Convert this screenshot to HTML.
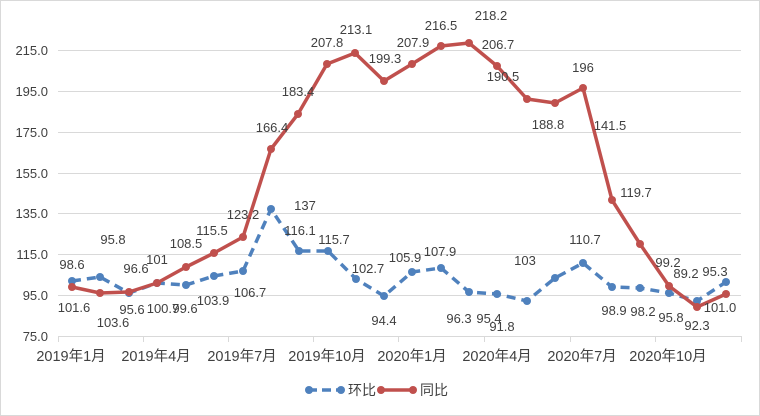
<!DOCTYPE html>
<html><head><meta charset="utf-8"><style>
html,body{margin:0;padding:0;background:#fff}
svg{display:block}
text{font-family:"Liberation Sans","Noto Sans CJK SC",sans-serif;font-size:13px;fill:#404040}
.ax{font-size:14.5px}
</style></head><body>
<svg width="760" height="416" viewBox="0 0 760 416">
<rect x="0.5" y="0.5" width="759" height="415" fill="#fff" stroke="#d9d9d9"/>
<g stroke="#d9d9d9" stroke-width="1">
<line x1="58" x2="741" y1="50.5" y2="50.5"/>
<line x1="58" x2="741" y1="91.5" y2="91.5"/>
<line x1="58" x2="741" y1="132.5" y2="132.5"/>
<line x1="58" x2="741" y1="173.5" y2="173.5"/>
<line x1="58" x2="741" y1="213.5" y2="213.5"/>
<line x1="58" x2="741" y1="254.5" y2="254.5"/>
<line x1="58" x2="741" y1="295.5" y2="295.5"/>
<line x1="58" x2="741" y1="336.5" y2="336.5"/>
<line x1="58.5" x2="58.5" y1="336" y2="342"/>
<line x1="143.5" x2="143.5" y1="336" y2="342"/>
<line x1="228.5" x2="228.5" y1="336" y2="342"/>
<line x1="313.5" x2="313.5" y1="336" y2="342"/>
<line x1="398.5" x2="398.5" y1="336" y2="342"/>
<line x1="484.5" x2="484.5" y1="336" y2="342"/>
<line x1="570.5" x2="570.5" y1="336" y2="342"/>
<line x1="655.5" x2="655.5" y1="336" y2="342"/>
<line x1="741.5" x2="741.5" y1="336" y2="342"/>
</g>
<g text-anchor="end">
<text x="48" y="55">215.0</text><text x="48" y="96">195.0</text><text x="48" y="137">175.0</text>
<text x="48" y="178">155.0</text><text x="48" y="218">135.0</text><text x="48" y="259">115.0</text>
<text x="48" y="300">95.0</text><text x="48" y="341">75.0</text>
</g>
<g text-anchor="middle" class="ax">
<text class="ax" x="71" y="361">2019年1月</text><text class="ax" x="156" y="361">2019年4月</text>
<text class="ax" x="242" y="361">2019年7月</text><text class="ax" x="327" y="361">2019年10月</text>
<text class="ax" x="412" y="361">2020年1月</text><text class="ax" x="497" y="361">2020年4月</text>
<text class="ax" x="582" y="361">2020年7月</text><text class="ax" x="668" y="361">2020年10月</text>
</g>
<polyline fill="none" stroke="#4f81bd" stroke-width="3.5" stroke-dasharray="9,6" stroke-linejoin="round"
points="72,281 100,277 129,293 157,283 186,285 214,276 243,271 271,209 299,251 328,251 356,279 384,296 412,272 441,268 469,292 497,294 527,301 555,278 583,263 612,287 640,288 669,293 697,301 726,282"/>
<g fill="#4f81bd">
<circle cx="72" cy="281" r="4"/><circle cx="100" cy="277" r="4"/><circle cx="129" cy="293" r="4"/><circle cx="157" cy="283" r="4"/><circle cx="186" cy="285" r="4"/><circle cx="214" cy="276" r="4"/><circle cx="243" cy="271" r="4"/><circle cx="271" cy="209" r="4"/><circle cx="299" cy="251" r="4"/><circle cx="328" cy="251" r="4"/><circle cx="356" cy="279" r="4"/><circle cx="384" cy="296" r="4"/><circle cx="412" cy="272" r="4"/><circle cx="441" cy="268" r="4"/><circle cx="469" cy="292" r="4"/><circle cx="497" cy="294" r="4"/><circle cx="527" cy="301" r="4"/><circle cx="555" cy="278" r="4"/><circle cx="583" cy="263" r="4"/><circle cx="612" cy="287" r="4"/><circle cx="640" cy="288" r="4"/><circle cx="669" cy="293" r="4"/><circle cx="697" cy="301" r="4"/><circle cx="726" cy="282" r="4"/>
</g>
<polyline fill="none" stroke="#c0504d" stroke-width="3.5" stroke-linejoin="round"
points="72,287 100,293 129,292 157,283 186,267 214,253 243,237 271,149 298,114 327,64 355,53 384,81 412,64 441,46 469,43 497,66 527,99 555,103 583,88 612,200 640,244 669,286 697,307 726,294"/>
<g fill="#c0504d">
<circle cx="72" cy="287" r="4"/><circle cx="100" cy="293" r="4"/><circle cx="129" cy="292" r="4"/><circle cx="157" cy="283" r="4"/><circle cx="186" cy="267" r="4"/><circle cx="214" cy="253" r="4"/><circle cx="243" cy="237" r="4"/><circle cx="271" cy="149" r="4"/><circle cx="298" cy="114" r="4"/><circle cx="327" cy="64" r="4"/><circle cx="355" cy="53" r="4"/><circle cx="384" cy="81" r="4"/><circle cx="412" cy="64" r="4"/><circle cx="441" cy="46" r="4"/><circle cx="469" cy="43" r="4"/><circle cx="497" cy="66" r="4"/><circle cx="527" cy="99" r="4"/><circle cx="555" cy="103" r="4"/><circle cx="583" cy="88" r="4"/><circle cx="612" cy="200" r="4"/><circle cx="640" cy="244" r="4"/><circle cx="669" cy="286" r="4"/><circle cx="697" cy="307" r="4"/><circle cx="726" cy="294" r="4"/>
</g>
<g text-anchor="middle">
<text x="72" y="269">98.6</text><text x="74" y="312">101.6</text>
<text x="113" y="244">95.8</text><text x="113" y="327">103.6</text>
<text x="136" y="273">96.6</text><text x="132" y="314">95.6</text>
<text x="157" y="264">101</text><text x="163" y="313">100.7</text>
<text x="185" y="313">99.6</text><text x="186" y="248">108.5</text>
<text x="212" y="235">115.5</text><text x="213" y="305">103.9</text>
<text x="243" y="219">123.2</text><text x="250" y="297">106.7</text>
<text x="272" y="132">166.4</text><text x="305" y="210">137</text>
<text x="298" y="96">183.4</text><text x="300" y="235">116.1</text>
<text x="327" y="47">207.8</text><text x="334" y="244">115.7</text>
<text x="356" y="34">213.1</text><text x="368" y="273">102.7</text>
<text x="385" y="63">199.3</text><text x="384" y="325">94.4</text>
<text x="405" y="262">105.9</text><text x="413" y="47">207.9</text>
<text x="440" y="256">107.9</text><text x="441" y="30">216.5</text>
<text x="491" y="20">218.2</text><text x="498" y="49">206.7</text>
<text x="459" y="323">96.3</text><text x="489" y="323">95.4</text>
<text x="502" y="331">91.8</text><text x="525" y="265">103</text>
<text x="503" y="81">190.5</text><text x="548" y="129">188.8</text>
<text x="585" y="244">110.7</text><text x="583" y="72">196</text>
<text x="610" y="130">141.5</text><text x="614" y="315">98.9</text>
<text x="643" y="316">98.2</text><text x="636" y="197">119.7</text>
<text x="671" y="322">95.8</text><text x="668" y="267">99.2</text>
<text x="686" y="278">89.2</text><text x="697" y="330">92.3</text>
<text x="715" y="276">95.3</text><text x="720" y="312">101.0</text>
</g>
<line x1="308" x2="340" y1="390" y2="390" stroke="#4f81bd" stroke-width="3.5" stroke-dasharray="9,5"/>
<circle cx="309" cy="390" r="4" fill="#4f81bd"/><circle cx="341" cy="390" r="4" fill="#4f81bd"/>
<text x="348" y="395" style="font-size:14px">环比</text>
<line x1="381" x2="413" y1="390" y2="390" stroke="#c0504d" stroke-width="3.5"/>
<circle cx="381" cy="390" r="4" fill="#c0504d"/><circle cx="413" cy="390" r="4" fill="#c0504d"/>
<text x="420" y="395" style="font-size:14px">同比</text>
</svg>
</body></html>
